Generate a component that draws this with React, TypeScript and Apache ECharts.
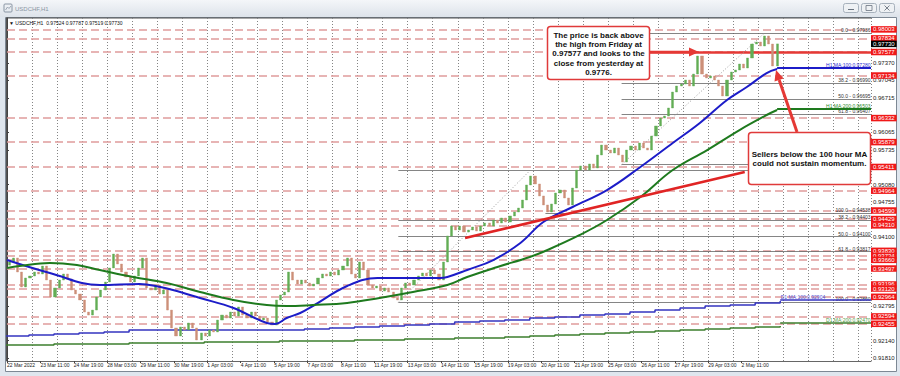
import React, { useEffect, useRef } from "react";
import * as echarts from "echarts";

const FONT = '"Liberation Sans", Arial, sans-serif';

// ---- time axis (hours since first bar, 22 Mar 2022 03:00) ----
const timeLabels = [
  "22 Mar 2022", "23 Mar 11:00", "24 Mar 19:00", "28 Mar 03:00", "29 Mar 11:00",
  "30 Mar 19:00", "1 Apr 03:00", "4 Apr 11:00", "5 Apr 19:00", "7 Apr 03:00",
  "8 Apr 11:00", "11 Apr 19:00", "13 Apr 03:00", "14 Apr 11:00", "15 Apr 19:00",
  "19 Apr 03:00", "20 Apr 11:00", "21 Apr 19:00", "25 Apr 03:00", "26 Apr 11:00",
  "27 Apr 19:00", "29 Apr 03:00", "2 May 11:00",
];
const labelStepHours = 32;
const candleHours = 4;
const axisHours = 828;

// ---- price axis ticks ----
const priceTicks = [0.9737, 0.97045, 0.96715, 0.96065, 0.95735, 0.9508, 0.94755, 0.941, 0.92795, 0.9214, 0.9181];

// ---- USDCHF closes (4-hour blocks) ----
const firstOpen = 0.9356;
const closes = [
  0.9362, 0.93695, 0.93431, 0.93148, 0.93318, 0.93356, 0.93431, 0.93394, 0.93544, 0.9328,
  0.9296, 0.9313, 0.9328, 0.93394, 0.93299, 0.93092, 0.93017, 0.92904, 0.92677, 0.9262,
  0.92714, 0.9296, 0.93092, 0.93243, 0.93507, 0.9377, 0.93582, 0.93431, 0.93337, 0.93243,
  0.93356, 0.93507, 0.93695, 0.9313, 0.93092, 0.93186, 0.93017, 0.93092, 0.92714, 0.92376,
  0.92225, 0.92395, 0.92339, 0.9247, 0.92376, 0.9215, 0.92282, 0.92225, 0.92339, 0.92301,
  0.92526, 0.9262, 0.92564, 0.92677, 0.92601, 0.92772, 0.9262, 0.92564, 0.92677, 0.92601,
  0.92526, 0.92564, 0.92489, 0.92432, 0.92904, 0.92998, 0.93054, 0.93431, 0.9328, 0.93205,
  0.9328, 0.93224, 0.93167, 0.93205, 0.93318, 0.93394, 0.93356, 0.93431, 0.93375, 0.93469,
  0.93544, 0.93695, 0.93394, 0.93318, 0.9362, 0.93469, 0.93186, 0.9313, 0.93167, 0.93073,
  0.9313, 0.93054, 0.92941, 0.92904, 0.9313, 0.93224, 0.93186, 0.9328, 0.93356, 0.93412,
  0.93356, 0.93469, 0.93394, 0.9328, 0.9362, 0.9411, 0.94298, 0.94223, 0.94298, 0.94185,
  0.94223, 0.94279, 0.94204, 0.94298, 0.94355, 0.94298, 0.94411, 0.94355, 0.94449, 0.94373,
  0.94487, 0.94562, 0.94637, 0.94788, 0.95071, 0.9524, 0.9509, 0.94864, 0.94694, 0.94562,
  0.94713, 0.9492, 0.94977, 0.94826, 0.94694, 0.95014, 0.95353, 0.95429, 0.95353, 0.95467,
  0.95391, 0.95636, 0.95824, 0.9573, 0.95674, 0.95768, 0.95636, 0.95504, 0.9573, 0.95806,
  0.9573, 0.95862, 0.95768, 0.9573, 0.95994, 0.96183, 0.96333, 0.96371, 0.96522, 0.96823,
  0.96936, 0.96974, 0.97049, 0.96936, 0.97162, 0.97502, 0.97162, 0.97087, 0.97125, 0.97049,
  0.96936, 0.96748, 0.97049, 0.972, 0.97238, 0.97351, 0.97276, 0.97464, 0.97728, 0.97766,
  0.9769, 0.97879, 0.97728, 0.97313, 0.9773,
];
const lastPrice = 0.9773;

// ---- H1 moving averages ----
const ma100Hours = [0, 41, 89, 127, 147, 159, 185, 217, 249, 257, 268, 281, 293, 326, 355, 386, 415, 422, 441, 466, 492, 514, 542, 575, 607, 638, 664, 690, 709, 728, 738];
const ma100 = [0.93657, 0.93412, 0.93186, 0.93205, 0.93148, 0.93092, 0.92941, 0.92753, 0.9247, 0.92451, 0.92564, 0.92658, 0.9279, 0.93167, 0.93318, 0.93318, 0.93318, 0.93337, 0.93469, 0.93657, 0.93978, 0.94373, 0.94656, 0.94976, 0.9541, 0.95862, 0.96239, 0.96672, 0.96917, 0.97181, 0.97257];
const ma100Level = 0.9728;
const ma200Hours = [0, 12, 41, 67, 89, 121, 153, 185, 217, 249, 268, 293, 326, 357, 389, 422, 441, 470, 501, 518, 549, 575, 607, 638, 671, 702, 728, 738];
const ma200 = [0.93507, 0.93544, 0.93601, 0.93563, 0.93469, 0.93337, 0.93224, 0.93054, 0.92904, 0.92809, 0.9279, 0.92809, 0.92847, 0.92941, 0.93054, 0.93186, 0.93337, 0.93526, 0.93714, 0.93846, 0.94129, 0.94411, 0.94845, 0.95353, 0.9573, 0.96107, 0.9639, 0.96484];
const ma200Level = 0.96503;

// ---- D1 moving averages (one value per trading day) ----
const dayStartHour = -3;
const dayHours = 24;
const d1Ma100 = [0.92225, 0.92244, 0.92263, 0.92282, 0.92301, 0.92339, 0.92339, 0.92339, 0.92339, 0.92339, 0.92339, 0.92339, 0.92357, 0.92376, 0.92395, 0.92414, 0.92432, 0.92451, 0.92489, 0.92508, 0.92527, 0.92564, 0.92583, 0.92621, 0.9264, 0.92677, 0.92715, 0.92753, 0.9279, 0.92809, 0.92847, 0.92885];
const d1Ma100Level = 0.92904;
const d1Ma200 = [0.92056, 0.92056, 0.92075, 0.92075, 0.92075, 0.92094, 0.92094, 0.92094, 0.92113, 0.92113, 0.92113, 0.92131, 0.92131, 0.92131, 0.9215, 0.9215, 0.92169, 0.92169, 0.92188, 0.92188, 0.92207, 0.92225, 0.92244, 0.92263, 0.92282, 0.92301, 0.9232, 0.92339, 0.92357, 0.92376, 0.92395, 0.92414];
const d1Ma200Level = 0.9247;

// ---- drawn objects ----
const levelValues = [0.98003, 0.97834, 0.97577, 0.97134, 0.96332, 0.95879, 0.95411, 0.94964, 0.9459, 0.94429, 0.9431, 0.9383, 0.93734, 0.9366, 0.93497, 0.93196, 0.9312, 0.92964, 0.92594, 0.92455];
const fridayHigh = 0.97577;
const fridayHighStartHour = 616;
const trendHours = [439, 707];
const trendValues = [0.94072, 0.95316];
const fibRatios = ["0.0", "38.2", "50.0", "61.8", "100.0"];
const fib1StartHour = 589;
const fib1Levels = [0.97936, 0.9699, 0.96695, 0.96407, 0.95454];
const fib1Diag = [[589, 0.95454], [726, 0.97936]];
const fib2StartHour = 375;
const fib2Levels = [0.9534, 0.94403, 0.941, 0.93817, 0.9286];
const fib2Diag = [[375, 0.9286], [501, 0.9534]];
const fib3StartHour = 516;
const fib3Level = 0.94538;

const labelHours = timeLabels.map((_, i) => i * labelStepHours);

function App() {
  const ref = useRef<HTMLDivElement>(null);
  useEffect(() => {
    if (!ref.current) return;
    const chart = echarts.init(ref.current, null, { renderer: "svg" });

    const candleData = closes.map((c, i) => {
      const o = i === 0 ? firstOpen : closes[i - 1];
      return [i * candleHours + candleHours / 2, o, c, Math.min(o, c), Math.max(o, c)];
    });
    const pairs = (xs: number[], ys: number[]) => xs.map((x, i) => [x, ys[i]]);
    const dayPairs = (vals: number[]) => vals.map((v, d) => [dayStartHour + d * dayHours, v]);
    const lastDayHour = dayStartHour + (d1Ma100.length - 1) * dayHours;

    // labels hidden under the annotation box in the reference
    const hiddenFib = new Set(["100.0 - 0.95454", "0.0 - 0.95340"]);
    const fibLine = (start: number, v: number, name: string) => [
      { name, coord: [start, v], label: hiddenFib.has(name) ? { show: false } : undefined },
      { coord: [axisHours, v] },
    ];
    const smallLabel = (color: string) => ({
      show: true,
      position: "insideEndTop",
      formatter: (p: any) => p.name,
      fontSize: 5,
      color,
      fontFamily: FONT,
      distance: 0.5,
    });

    const option: any = {
      animation: false,
      backgroundColor: "#dfe6ee",
      grid: { left: 7, right: 29, top: 18, bottom: 15, containLabel: false, outerBoundsMode: "none" },
      xAxis: [
        {
          type: "value",
          min: 0,
          max: axisHours,
          position: "bottom",
          axisLine: { show: true, onZero: false, lineStyle: { color: "#666", width: 1 } },
          axisTick: { show: true, customValues: labelHours, length: 2, lineStyle: { color: "#444" } },
          axisLabel: {
            customValues: labelHours,
            formatter: (v: number) => timeLabels[Math.round(v / labelStepHours)] ?? "",
            align: "left",
            fontSize: 5,
            color: "#222",
            margin: 1.5,
            fontFamily: FONT,
          },
          splitLine: { show: false },
        },
        {
          type: "value",
          min: dayStartHour,
          max: axisHours + dayStartHour,
          interval: dayHours,
          position: "bottom",
          axisLine: { show: false },
          axisTick: { show: false },
          axisLabel: { show: false },
          splitLine: { show: true, lineStyle: { color: "#858585", type: [1, 2], width: 1 } },
        },
      ],
      yAxis: {
        type: "value",
        position: "right",
        min: 0.91754,
        max: 0.98218,
        axisLine: { show: true, lineStyle: { color: "#444", width: 1 } },
        axisTick: { show: true, customValues: priceTicks, length: 2, lineStyle: { color: "#444" } },
        axisLabel: {
          customValues: priceTicks,
          formatter: (v: number) => v.toFixed(5),
          fontSize: 6,
          color: "#222",
          margin: 2,
          fontFamily: FONT,
        },
        splitLine: { show: false },
      },
      series: [
        {
          name: "levels",
          type: "line",
          data: [],
          z: 1,
          markLine: {
            silent: true,
            z: 1,
            precision: 5,
            symbol: ["none", "none"],
            lineStyle: { color: "#df9c9c", type: [8, 4], width: 1.5 },
            label: {
              show: true,
              position: "end",
              distance: 0,
              formatter: (p: any) => Number(p.value).toFixed(5),
              backgroundColor: "#f01818",
              color: "#fff",
              fontSize: 6,
              padding: [0.5, 2, 0, 2],
              fontFamily: FONT,
            },
            data: [
              ...levelValues.map((v) => ({ yAxis: v })),
              {
                yAxis: lastPrice,
                lineStyle: { color: "rgba(0,0,0,0)" },
                label: { backgroundColor: "#000" },
              },
            ],
          },
        },
        {
          name: "fibs",
          type: "line",
          data: [],
          z: 2,
          markLine: {
            silent: true,
            z: 2,
            precision: 5,
            symbol: ["none", "none"],
            lineStyle: { color: "#666", type: "solid", width: 0.8 },
            label: smallLabel("#333"),
            data: [
              ...fib1Levels.map((v, i) => fibLine(fib1StartHour, v, `${fibRatios[i]} - ${v.toFixed(5)}`)),
              ...fib2Levels.map((v, i) => fibLine(fib2StartHour, v, `${fibRatios[i]} - ${v.toFixed(5)}`)),
              fibLine(fib3StartHour, fib3Level, `100.0 - ${fib3Level.toFixed(5)}`),
              [
                { name: "", coord: [fridayHighStartHour, fridayHigh], lineStyle: { color: "#e53935", width: 2.5, type: "solid" }, label: { show: false } },
                { coord: [axisHours, fridayHigh] },
              ],
            ],
          },
        },
        {
          name: "fib1 diag",
          type: "line",
          data: fib1Diag,
          z: 2,
          showSymbol: false,
          lineStyle: { color: "#999", width: 1, type: [1, 2] },
          silent: true,
        },
        {
          name: "fib2 diag",
          type: "line",
          data: fib2Diag,
          z: 2,
          showSymbol: false,
          lineStyle: { color: "#999", width: 1, type: [1, 2] },
          silent: true,
        },
        {
          name: "D1 MA100",
          type: "line",
          data: dayPairs(d1Ma100),
          step: "end",
          z: 3,
          showSymbol: false,
          lineStyle: { color: "#3535c0", width: 1.5 },
          markLine: {
            silent: true,
            precision: 5,
            symbol: ["none", "none"],
            lineStyle: { color: "#3535c0", width: 1.5, type: "solid" },
            label: { ...smallLabel("#5050d8"), position: "insideStartTop" },
            data: [[{ name: `D1 MA:100:${d1Ma100Level.toFixed(5)}`, coord: [lastDayHour, d1Ma100Level] }, { coord: [axisHours, d1Ma100Level] }]],
          },
        },
        {
          name: "D1 MA200",
          type: "line",
          data: dayPairs(d1Ma200),
          step: "end",
          z: 3,
          showSymbol: false,
          lineStyle: { color: "#3d7f2e", width: 1.5 },
          markLine: {
            silent: true,
            precision: 5,
            symbol: ["none", "none"],
            lineStyle: { color: "#3d7f2e", width: 1.5, type: "solid" },
            label: smallLabel("#4f9a3f"),
            data: [[{ name: `D1 MA:200:${d1Ma200Level.toFixed(5)}`, coord: [lastDayHour, d1Ma200Level] }, { coord: [axisHours, d1Ma200Level] }]],
          },
        },
        {
          name: "price",
          type: "candlestick",
          z: 4,
          data: candleData,
          dimensions: ["t", "open", "close", "lowest", "highest"],
          encode: { x: "t", y: ["open", "close", "lowest", "highest"] },
          barWidth: 2.6,
          itemStyle: {
            color: "#62ad55",
            color0: "#cc8f78",
            borderColor: "#62ad55",
            borderColor0: "#cc8f78",
            borderWidth: 0.4,
          },
          silent: true,
        },
        {
          name: "H1 MA100",
          type: "line",
          data: pairs(ma100Hours, ma100),
          smooth: 0.4,
          z: 5,
          showSymbol: false,
          lineStyle: { color: "#1c1cc8", width: 2 },
          markLine: {
            silent: true,
            precision: 5,
            symbol: ["none", "none"],
            lineStyle: { color: "#1c1cc8", width: 2, type: "solid" },
            label: smallLabel("#2a2ad0"),
            data: [[{ name: `H1 MA:100:${ma100Level.toFixed(5)}`, coord: [ma100Hours[ma100Hours.length - 1], ma100Level] }, { coord: [axisHours, ma100Level] }]],
          },
        },
        {
          name: "H1 MA200",
          type: "line",
          data: pairs(ma200Hours, ma200),
          smooth: 0.4,
          z: 5,
          showSymbol: false,
          lineStyle: { color: "#1e7a1e", width: 2 },
          markLine: {
            silent: true,
            precision: 5,
            symbol: ["none", "none"],
            lineStyle: { color: "#1e7a1e", width: 2, type: "solid" },
            label: smallLabel("#2a8a2a"),
            data: [[{ name: `H1 MA:200:${ma200Level.toFixed(5)}`, coord: [ma200Hours[ma200Hours.length - 1], ma200Level] }, { coord: [axisHours, ma200Level] }]],
          },
        },
        {
          name: "trend",
          type: "line",
          data: pairs(trendHours, trendValues),
          z: 5,
          showSymbol: false,
          lineStyle: { color: "#e02424", width: 2.5 },
        },
      ],
      graphic: [
        // window chrome
        {
          type: "rect", z: -20, silent: true,
          shape: { x: 0, y: 0, width: 900, height: 17 },
          style: { fill: new echarts.graphic.LinearGradient(0, 0, 0, 1, [{ offset: 0, color: "#f4f6f9" }, { offset: 1, color: "#dde3ea" }]) },
        },
        {
          type: "rect", z: -19, silent: true,
          shape: { x: 5.5, y: 17.5, width: 891, height: 354 },
          style: { fill: "#ffffff", stroke: "#7d8894", lineWidth: 1 },
        },
        { type: "rect", z: -18, silent: true, shape: { x: 4, y: 4, width: 8, height: 8, r: 1 }, style: { fill: "none", stroke: "#8a96a4", lineWidth: 1 } },
        { type: "polyline", z: -18, silent: true, shape: { points: [[5.5, 10], [7.5, 7], [9, 8.5], [11, 6]] }, style: { stroke: "#8a96a4", lineWidth: 0.8, fill: "none" } },
        { type: "text", z: -18, silent: true, x: 15, y: 9, style: { text: "USDCHF,H1", fill: "#8a96a4", font: `6px ${FONT}`, verticalAlign: "middle" } },
        { type: "rect", z: -18, silent: true, shape: { x: 843.5, y: 3.5, width: 15, height: 9, r: 2 }, style: { fill: "#eef1f4", stroke: "#a7b1bc" } },
        { type: "rect", z: -18, silent: true, shape: { x: 861.5, y: 3.5, width: 15, height: 9, r: 2 }, style: { fill: "#eef1f4", stroke: "#a7b1bc" } },
        { type: "rect", z: -18, silent: true, shape: { x: 879.5, y: 3.5, width: 15, height: 9, r: 2 }, style: { fill: "#eef1f4", stroke: "#a7b1bc" } },
        { type: "line", z: -17, silent: true, shape: { x1: 848, y1: 9.5, x2: 854, y2: 9.5 }, style: { stroke: "#6a7480", lineWidth: 1 } },
        { type: "rect", z: -17, silent: true, shape: { x: 866, y: 5.5, width: 6, height: 5 }, style: { fill: "none", stroke: "#6a7480", lineWidth: 0.8 } },
        { type: "line", z: -17, silent: true, shape: { x1: 884.5, y1: 5.5, x2: 889.5, y2: 10.5 }, style: { stroke: "#6a7480", lineWidth: 0.9 } },
        { type: "line", z: -17, silent: true, shape: { x1: 889.5, y1: 5.5, x2: 884.5, y2: 10.5 }, style: { stroke: "#6a7480", lineWidth: 0.9 } },
        { type: "line", z: -17, silent: true, shape: { x1: 6, y1: 18, x2: 871, y2: 18 }, style: { stroke: "#555", lineWidth: 1 } },
        { type: "line", z: -17, silent: true, shape: { x1: 6.5, y1: 18, x2: 6.5, y2: 361 }, style: { stroke: "#555", lineWidth: 1 } },
        // header
        {
          type: "text", z: 20, silent: true, x: 9, y: 23,
          style: { text: "\u25BC USDCHF,H1  0.97524 0.97787 0.97519 0.97730", fill: "#111", font: `5px ${FONT}`, verticalAlign: "middle" },
        },
        // annotation 1
        {
          type: "rect", z: 100, silent: true,
          shape: { x: 547.5, y: 26.5, width: 102, height: 53, r: 3 },
          style: { fill: "#ffffff", stroke: "#e03a3a", lineWidth: 1.5 },
        },
        ...["The price is back above", "the high from Friday at", "0.97577 and looks to the", "close from yesterday at", "0.9776."].map((t, i) => ({
          type: "text", z: 101, silent: true, x: 598.5, y: 35.5 + i * 9.2,
          style: { text: t, fill: "#111", font: `bold 8px ${FONT}`, align: "center", verticalAlign: "middle" },
        })),
        { type: "line", z: 101, silent: true, shape: { x1: 650, y1: 52, x2: 690, y2: 52 }, style: { stroke: "#e53935", lineWidth: 2.5 } },
        { type: "polygon", z: 101, silent: true, shape: { points: [[699, 52], [689, 47.5], [689, 56.5]] }, style: { fill: "#e53935" } },
        // annotation 2
        {
          type: "rect", z: 100, silent: true,
          shape: { x: 748.5, y: 132.5, width: 122, height: 52, r: 3 },
          style: { fill: "#ffffff", stroke: "#e03a3a", lineWidth: 1.5 },
        },
        ...["Sellers below the 100 hour MA", "could not sustain momentum."].map((t, i) => ({
          type: "text", z: 101, silent: true, x: 809.5, y: 154 + i * 9.2,
          style: { text: t, fill: "#111", font: `bold 8px ${FONT}`, align: "center", verticalAlign: "middle" },
        })),
        { type: "line", z: 101, silent: true, shape: { x1: 797, y1: 132, x2: 779.2, y2: 80 }, style: { stroke: "#e53935", lineWidth: 3 } },
        { type: "polygon", z: 101, silent: true, shape: { points: [[776, 70], [783.6, 78.4], [774.5, 81.6]] }, style: { fill: "#e53935" } },
      ],
    };

    chart.setOption(option);
    return () => chart.dispose();
  }, []);

  return <div ref={ref} style={{ position: "fixed", left: 0, top: 0, width: 900, height: 376 }} />;
}

export default App;
